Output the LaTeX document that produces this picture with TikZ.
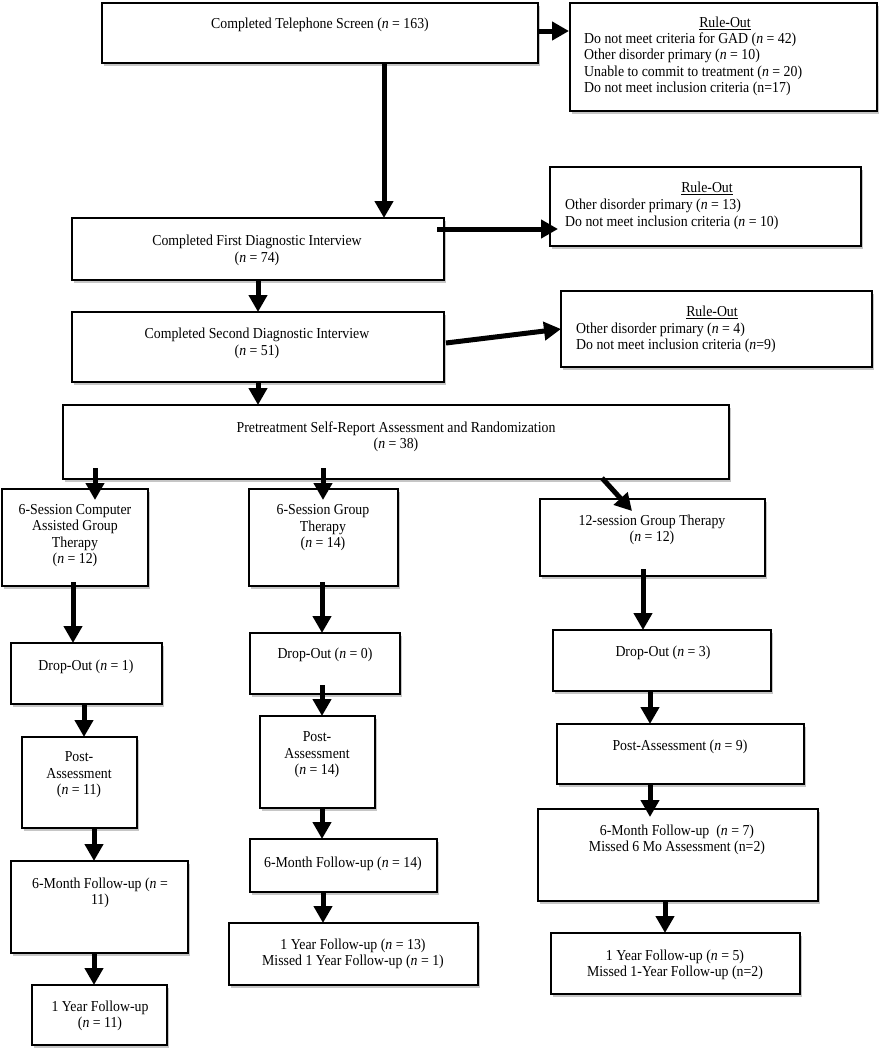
\documentclass[tikz,border=0pt]{standalone}
\usepackage{fontspec}
\setmainfont[FakeStretch=0.91]{Liberation Serif}
\usetikzlibrary{arrows.meta,calc,shadows}
\tikzset{
  box/.style={draw=black, line width=2.5pt, fill=white, inner sep=0pt, outer sep=0pt,
    drop shadow={shadow xshift=2pt, shadow yshift=-2.5pt, fill=gray!45, opacity=1}},
  txt/.style={inner sep=0pt, align=center, font=\fontsize{15.2}{16.5}\selectfont},
  ltxt/.style={txt, align=left, anchor=west},
  arr/.style={line width=5pt, draw=black, -{Triangle[length=17pt,width=18pt]}}
}
\newcommand{\bx}[5]{\node[box, minimum width={(#4-#2)*1pt}, minimum height={(#5-#3)*1pt}] (#1) at ({(#2+#4)/2},{(#3+#5)/2}) {};}
\begin{document}
\begin{tikzpicture}[x=1pt,y=-1pt]
\fill[white] (0,0) rectangle (880,1050);
\useasboundingbox (0,0) rectangle (880,1050);

% boxes
\bx{tel}{102}{3}{538}{63}
\bx{rule1}{570}{3}{877}{111}
\bx{fd}{72}{218}{444}{280}
\bx{rule2}{550}{167}{861}{246}
\bx{sd}{72}{312}{444}{382}
\bx{rule3}{561}{291}{872}{367}
\bx{pre}{63}{405}{729}{479}
\bx{cagt}{2}{489}{148}{586}
\bx{g6}{249}{489}{398}{586}
\bx{g12}{540}{499}{765}{576}
\bx{d1}{11}{643}{162}{704}
\bx{d0}{250}{633}{400}{694}
\bx{d3}{553}{630}{771}{691}
\bx{p11}{22}{737}{137}{828}
\bx{p14}{260}{716}{375}{808}
\bx{p9}{557}{724}{804}{784}
\bx{m11}{11}{861}{188}{953}
\bx{m14}{250}{839}{437}{892}
\bx{m7}{538}{809}{818}{901}
\bx{y11}{32}{985}{167}{1045}
\bx{y13}{229}{923}{478}{985}
\bx{y5}{551}{933}{800}{994}

% texts
\node[txt] (tel-t) at (320,25) {Completed Telephone Screen (\textit{n} = 163)};
\node[txt] (rule1-h) at (725,23.5) {\underline{Rule-Out}};
\node[ltxt] (rule1-t) at (584,64.5) {Do not meet criteria for GAD (\textit{n} = 42)\\Other disorder primary (\textit{n} = 10)\\Unable to commit to treatment (\textit{n} = 20)\\Do not meet inclusion criteria (n=17)};
\node[txt] (fd-t) at (257,250.5) {Completed First Diagnostic Interview\\(\textit{n} = 74)};
\node[txt] (rule2-h) at (707,188.5) {\underline{Rule-Out}};
\node[ltxt] (rule2-t) at (565,214.5) {Other disorder primary (\textit{n} = 13)\\Do not meet inclusion criteria (\textit{n} = 10)};
\node[txt] (sd-t) at (257,343.5) {Completed Second Diagnostic Interview\\(\textit{n} = 51)};
\node[txt] (rule3-h) at (712,312.5) {\underline{Rule-Out}};
\node[ltxt] (rule3-t) at (576,338) {Other disorder primary (\textit{n} = 4)\\Do not meet inclusion criteria (\textit{n}=9)};
\node[txt] (pre-t) at (396,437) {Pretreatment Self-Report Assessment and Randomization\\(\textit{n} = 38)};
\node[txt] (cagt-t) at (75,535.5) {6-Session Computer\\Assisted Group\\Therapy\\(\textit{n} = 12)};
\node[txt] (g6-t) at (323,528) {6-Session Group\\Therapy\\(\textit{n} = 14)};
\node[txt] (g12-t) at (652,530) {12-session Group Therapy\\(\textit{n} = 12)};
\node[txt] (d1-t) at (86,667) {Drop-Out (\textit{n} = 1)};
\node[txt] (d0-t) at (325,655) {Drop-Out (\textit{n} = 0)};
\node[txt] (d3-t) at (663,653) {Drop-Out (\textit{n} = 3)};
\node[txt] (p11-t) at (79,775) {Post-\\Assessment\\(\textit{n} = 11)};
\node[txt] (p14-t) at (317,755) {Post-\\Assessment\\(\textit{n} = 14)};
\node[txt] (p9-t) at (680,747) {Post-Assessment (\textit{n} = 9)};
\node[txt] (m11-t) at (100,893) {6-Month Follow-up (\textit{n} =\\11)};
\node[txt] (m14-t) at (343,864) {6-Month Follow-up (\textit{n} = 14)};
\node[txt] (m7-t) at (677,840) {6-Month Follow-up\ \ (\textit{n} = 7)\\Missed 6 Mo Assessment (n=2)};
\node[txt] (y11-t) at (100,1016) {1 Year Follow-up\\(\textit{n} = 11)};
\node[txt] (y13-t) at (353,954) {1 Year Follow-up (\textit{n} = 13)\\Missed 1 Year Follow-up (\textit{n} = 1)};
\node[txt] (y5-t) at (675,965) {1 Year Follow-up (\textit{n} = 5)\\Missed 1-Year Follow-up (n=2)};

% connectors
\draw[arr] ($(tel.north east)+(0,28)$) -- ($(rule1.north west)+(-1,28)$);
\draw[arr] ($(tel.south west)+(282,0)$) -- ($(fd.north west)+(312,0)$);
\draw[arr] ($(fd.north east)+(-7,11)$) -- ($(rule2.south west)+(8,-17)$);
\draw[arr] (fd.south) -- (sd.north);
\draw[arr] ($(sd.north east)+(2,31)$) -- (rule3.west);
\draw[arr] (sd.south) -- (sd.south |- pre.north);
\draw[arr] ($(pre.south west)+(32,-11)$) -- ($(cagt.north west)+(93,11)$);
\draw[arr] ($(pre.south west)+(260,-11)$) -- ($(g6.north west)+(74,11)$);
\draw[arr] ($(pre.south west)+(539,-1)$) -- ($(g12.north west)+(92,12)$);
\draw[arr] ($(cagt.south west)+(71,-4)$) -- ($(d1.north west)+(62,0)$);
\draw[arr] ($(g6.south west)+(73,-4)$) -- ($(d0.north west)+(72,0)$);
\draw[arr] ($(g12.south west)+(103,-7)$) -- ($(d3.north west)+(90,0)$);
\draw[arr] ($(d1.south west)+(73,0)$) -- ($(p11.north west)+(62,0)$);
\draw[arr] ($(d0.south west)+(72,-9)$) -- ($(p14.north west)+(62,0)$);
\draw[arr] ($(d3.south west)+(97,0)$) -- ($(p9.north west)+(93,0)$);
\draw[arr] ($(p11.south west)+(72,0)$) -- ($(m11.north west)+(83,0)$);
\draw[arr] ($(p14.south west)+(62,0)$) -- ($(m14.north west)+(72,0)$);
\draw[arr] ($(p9.south west)+(93,0)$) -- ($(m7.north west)+(112,8)$);
\draw[arr] ($(m11.south west)+(83,0)$) -- ($(y11.north west)+(62,0)$);
\draw[arr] ($(m14.south west)+(73,0)$) -- ($(y13.north west)+(94,0)$);
\draw[arr] ($(m7.south west)+(127,0)$) -- ($(y5.north west)+(114,0)$);
\end{tikzpicture}
\end{document}
